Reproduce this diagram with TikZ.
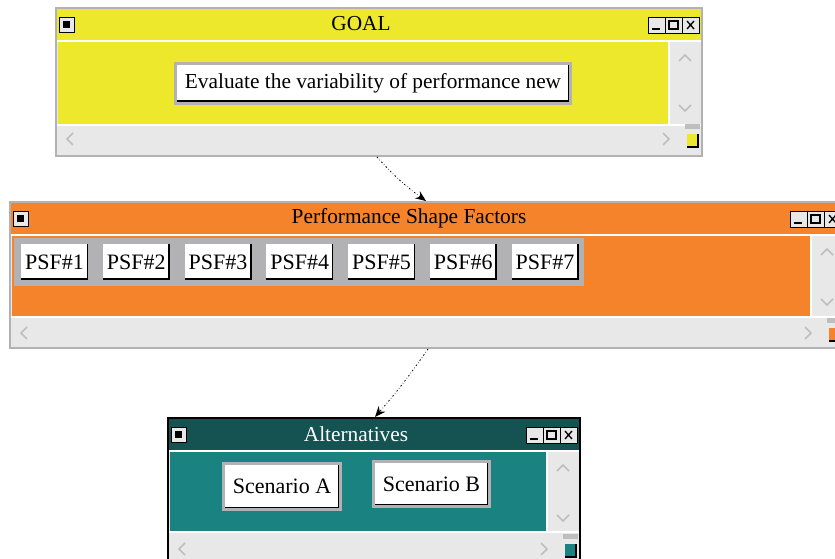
\documentclass[tikz,border=0pt]{standalone}
\usepackage{fontspec}
\setmainfont{Liberation Serif}
\usetikzlibrary{arrows.meta,positioning,calc}
\definecolor{goalyellow}{RGB}{237,232,43}
\definecolor{psforange}{RGB}{244,131,44}
\definecolor{altteal}{RGB}{27,130,130}
\definecolor{altdark}{RGB}{21,82,82}
\definecolor{barlight}{RGB}{232,232,232}
\definecolor{framegray}{RGB}{178,178,180}
\definecolor{chevgray}{RGB}{190,190,190}

\tikzset{
  uibutton/.style={rectangle, fill=white, draw=framegray, line width=2.25pt, inner sep=0pt,
    font=\fontsize{16.5}{19}\selectfont,
    path picture={\draw[black, line width=4.5pt]
      (path picture bounding box.north east) -- (path picture bounding box.south east)
      -- (path picture bounding box.south west);}},
  titletext/.style={font=\fontsize{16}{19}\selectfont},
  chev/.style={chevgray, line width=1.2pt},
  flowarrow/.style={black, line width=0.6pt, dash pattern=on 1.2pt off 1.6pt on 0.4pt off 1.6pt,
    -{Stealth[length=8pt, width=6.5pt]}}
}

% #1,#2 top left  #3,#4 bottom right  #5 bar  #6 body  #7 title  #8 title colour  #9 border
\newcommand{\uiwindow}[9]{%
  \fill[barlight] (#1,#2) rectangle (#3,#4);
  \fill[#5] (#1,#2) rectangle (#3,{#2+32});
  \fill[white] ({#1+1},{#2+32}) rectangle ({#3-1},{#2+34});
  \fill[#6] ({#1+2},{#2+34}) rectangle ({#3-34},{#4-32});
  \fill[white] ({#3-34},{#2+34}) rectangle ({#3-32},{#4-32});
  \fill[white] ({#1+1},{#4-32}) rectangle ({#3-1},{#4-30});
  \node[titletext, text=#8] at ({(#1+#3)/2-18},{#2+16}) {#7};
  % system buttons
  \draw[black, fill=barlight, line width=0.5pt] ({#1+3},{#2+9}) rectangle ({#1+18},{#2+24});
  \fill[black] ({#1+7},{#2+13}) rectangle ({#1+14},{#2+20});
  \foreach \k in {0,1,2} {
    \draw[black, fill=barlight, line width=0.5pt] ({#3-54+17*\k},{#2+9}) rectangle ({#3-37+17*\k},{#2+25});
  }
  \draw[black, line width=1pt] ({#3-50},{#2+21}) -- ({#3-42},{#2+21});
  \draw[black, line width=1pt] ({#3-33},{#2+13}) rectangle ({#3-24},{#2+21});
  \draw[black, line width=1pt] ({#3-15},{#2+13}) -- ({#3-8},{#2+21}) ({#3-15},{#2+21}) -- ({#3-8},{#2+13});
  % scroll arrows
  \draw[chev] ({#3-23},{#2+53}) -- ({#3-17},{#2+47}) -- ({#3-11},{#2+53});
  \draw[chev] ({#3-23},{#2+97}) -- ({#3-17},{#2+103}) -- ({#3-11},{#2+97});
  \draw[chev] ({#1+17},{#2+125}) -- ({#1+11},{#2+131}) -- ({#1+17},{#2+137});
  \draw[chev] ({#3-39},{#2+125}) -- ({#3-33},{#2+131}) -- ({#3-39},{#2+137});
  % size grip
  \fill[chevgray] ({#3-17},{#2+116}) rectangle ({#3-2},{#2+121});
  \fill[black] ({#3-15},{#2+126}) rectangle ({#3-3},{#2+140});
  \fill[#6] ({#3-15},{#2+126}) rectangle ({#3-5},{#2+138});
  \draw[#9, line width=1.5pt] (#1,#2) rectangle (#3,#4);
}

\begin{document}
\begin{tikzpicture}[x=0.75pt, y=-0.75pt]
    \useasboundingbox (0,0) rectangle (835,559);
    \clip (0,0) rectangle (835,559);

    % Goal window
    \uiwindow{56}{8}{702}{156}{goalyellow}{goalyellow}{GOAL}{black}{framegray}
    \node[uibutton, font=\fontsize{16}{19}\selectfont, minimum width=395*0.75pt, minimum height=40*0.75pt]
        (goal) at (373,83.5) {Evaluate the variability of performance new};

    % PSF window
    \uiwindow{10}{202}{844}{348}{psforange}{psforange}{Performance Shape Factors}{black}{framegray}
    \fill[framegray] (14,238) rectangle (584,286);
    \foreach \i in {1,...,7} {
        \node[uibutton, minimum width=70*0.75pt, minimum height=39*0.75pt] (psf\i)
            at ({54.5+(\i-1)*81.75},262) {PSF\#\i};
    }

    % Alternatives window
    \uiwindow{168}{418}{580}{563}{altdark}{altteal}{Alternatives}{white}{black}
    \node[uibutton, minimum width=117*0.75pt, minimum height=46*0.75pt] (scenA) at (282,486.5) {Scenario A};
    \node[uibutton, minimum width=116*0.75pt, minimum height=45*0.75pt] (scenB) at (431.5,484) {Scenario B};

    % links between windows
    \coordinate (goalout) at (377,157);
    \coordinate (psfin) at (426,201);
    \coordinate (psfout) at (428,349);
    \coordinate (altin) at (375,417);
    \draw[flowarrow] (goalout) to[bend right=6] (psfin);
    \draw[flowarrow] (psfout) to[bend left=3] (altin);
\end{tikzpicture}
\end{document}
